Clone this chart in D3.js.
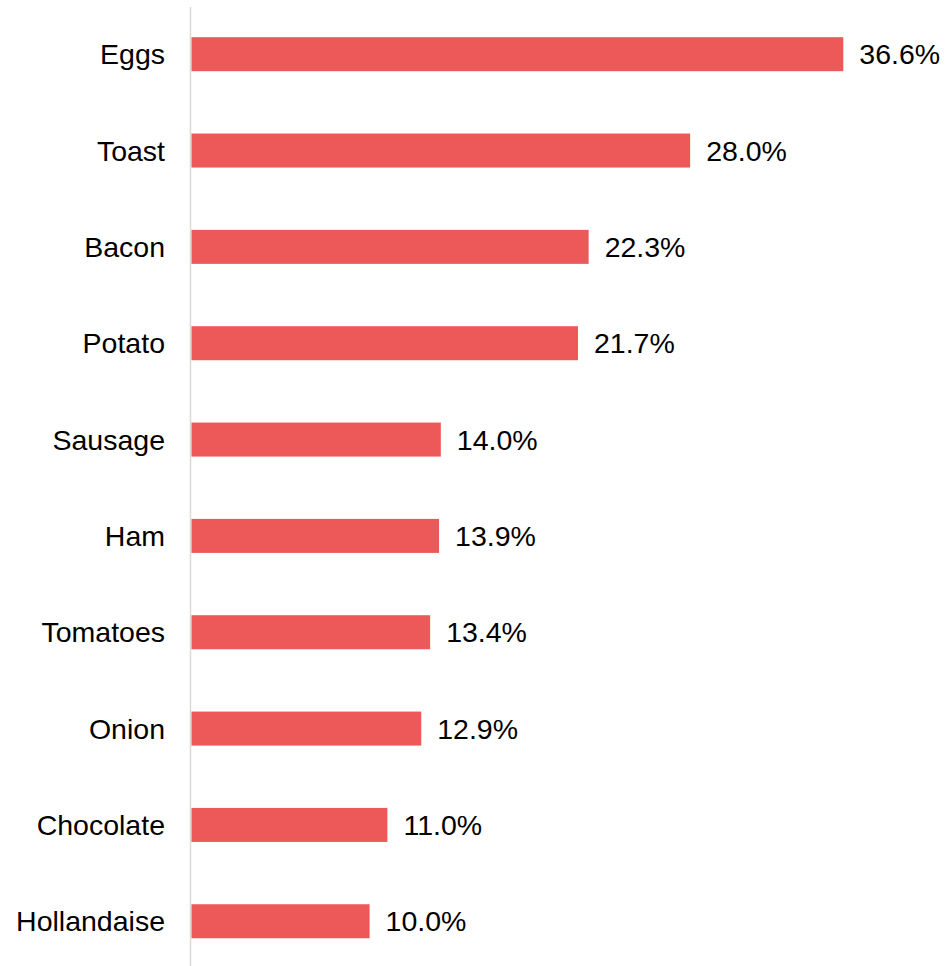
<!DOCTYPE html>
<html><head><meta charset="utf-8">
<script src="https://cdn.jsdelivr.net/npm/d3@7"></script>
<style>body{margin:0;background:#fff;}svg{display:block;}</style>
</head><body>
<svg id="chart" width="945" height="966"></svg>
<script>
const categories = ["Eggs","Toast","Bacon","Potato","Sausage","Ham","Tomatoes","Onion","Chocolate","Hollandaise"];
const values = [36.6, 28.0, 22.3, 21.7, 14.0, 13.9, 13.4, 12.9, 11.0, 10.0];
const data = categories.map((c,i)=>({c, v: values[i]}));

const svg = d3.select("#chart");
const x0 = 191.5;
const x = d3.scaleLinear().domain([0, 36.6]).range([x0, 843.3]);
const step = 96.34;
const y = d3.scaleBand().domain(categories)
  .range([54.2 - step/2, 54.2 - step/2 + step*10])
  .paddingInner(0.647).paddingOuter(0.3235);

svg.append("line").attr("x1",190.5).attr("x2",190.5).attr("y1",7).attr("y2",966)
  .attr("stroke","#d9d9d9").attr("stroke-width",1.5);

svg.selectAll("rect.bar").data(data).join("rect").attr("class","bar")
  .attr("x", x0).attr("y", d=>y(d.c)).attr("width", d=>x(d.v)-x0).attr("height", y.bandwidth())
  .attr("fill","#ed5858");

const font = "'Liberation Sans', Arial, sans-serif";
svg.selectAll("text.cat").data(data).join("text").attr("class","cat")
  .attr("x",165).attr("y", d=>y(d.c)+y.bandwidth()/2).attr("dy","0.35em")
  .attr("text-anchor","end").attr("font-family",font).attr("font-size",28.5).attr("fill","#000")
  .text(d=>d.c);

svg.selectAll("text.val").data(data).join("text").attr("class","val")
  .attr("x", d=>x(d.v)+16).attr("y", d=>y(d.c)+y.bandwidth()/2).attr("dy","0.35em")
  .attr("font-family",font).attr("font-size",28.5).attr("fill","#000")
  .text(d=>d.v.toFixed(1)+"%");
</script>
</body></html>
